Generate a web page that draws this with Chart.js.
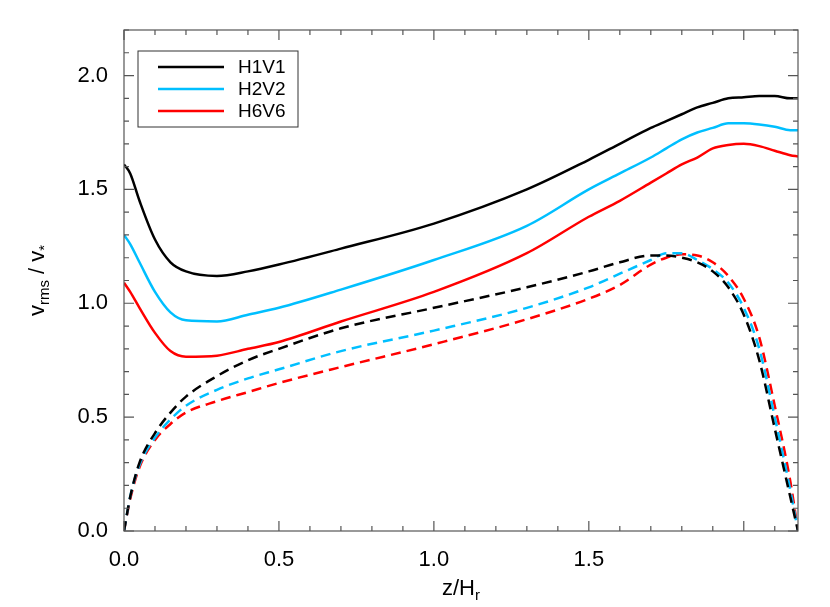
<!DOCTYPE html>
<html>
<head>
<meta charset="utf-8">
<script src="https://cdn.jsdelivr.net/npm/chart.js@4"></script>
<style>
  html, body { margin: 0; padding: 0; background: #fff; }
  #wrap { width: 830px; height: 607px; }
</style>
</head>
<body>
<div id="wrap"><canvas id="c" width="830" height="607"></canvas></div>
<script>
// z / H_r
const zVals = [0, 0.02, 0.05, 0.1, 0.15, 0.2, 0.3, 0.4, 0.5, 0.7, 1.0, 1.3, 1.5, 1.6, 1.7, 1.75, 1.8, 1.85, 1.9, 1.95, 2.0, 2.05, 2.1, 2.15, 2.175];

// solid: total v_rms / v_*
const h1Solid = [1.61, 1.57, 1.45, 1.28, 1.18, 1.14, 1.12, 1.14, 1.17, 1.24, 1.35, 1.50, 1.63, 1.70, 1.77, 1.80, 1.83, 1.86, 1.88, 1.90, 1.905, 1.91, 1.91, 1.90, 1.90];
const h2Solid = [1.30, 1.26, 1.18, 1.05, 0.96, 0.925, 0.92, 0.95, 0.98, 1.06, 1.19, 1.34, 1.50, 1.57, 1.64, 1.68, 1.72, 1.75, 1.77, 1.79, 1.79, 1.785, 1.775, 1.76, 1.76];
const h6Solid = [1.09, 1.05, 0.98, 0.87, 0.79, 0.765, 0.77, 0.80, 0.83, 0.92, 1.05, 1.22, 1.38, 1.45, 1.53, 1.57, 1.61, 1.64, 1.68, 1.695, 1.70, 1.69, 1.67, 1.65, 1.645];

// dashed
const h1Dash = [0, 0.15, 0.30, 0.43, 0.52, 0.59, 0.68, 0.75, 0.80, 0.89, 0.98, 1.07, 1.14, 1.18, 1.21, 1.21, 1.20, 1.18, 1.14, 1.07, 0.95, 0.75, 0.45, 0.15, 0];
const h2Dash = [0, 0.15, 0.29, 0.41, 0.49, 0.55, 0.62, 0.67, 0.71, 0.79, 0.88, 0.98, 1.07, 1.13, 1.19, 1.22, 1.22, 1.19, 1.15, 1.09, 0.98, 0.80, 0.50, 0.18, 0];
const h6Dash = [0, 0.14, 0.28, 0.40, 0.47, 0.52, 0.57, 0.61, 0.65, 0.72, 0.82, 0.93, 1.02, 1.08, 1.17, 1.20, 1.215, 1.21, 1.18, 1.12, 1.02, 0.85, 0.55, 0.22, 0];

const FONT = "'Liberation Sans', Arial, sans-serif";
const pts = arr => arr.map((v, i) => ({ x: zVals[i], y: v }));
const isHalf = v => Math.abs(v / 0.5 - Math.round(v / 0.5)) < 1e-6;

function series(label, data, color, dashed) {
  return {
    label: label,
    data: pts(data),
    borderColor: color,
    borderWidth: 2.5,
    borderDash: dashed ? [10, 6] : [],
    pointRadius: 0,
    cubicInterpolationMode: 'monotone',
    fill: false,
    _dashed: dashed
  };
}

// IDL-style inward ticks, frame, legend and axis titles
const decor = {
  id: 'decor',
  afterDraw(chart) {
    const { ctx, chartArea: a, scales: { x, y } } = chart;
    ctx.save();
    ctx.strokeStyle = '#555';
    ctx.lineWidth = 1.2;
    ctx.strokeRect(a.left, a.top, a.right - a.left, a.bottom - a.top);
    ctx.beginPath();
    for (let v = 0; v <= x.max + 1e-9; v += 0.1) {
      const px = x.getPixelForValue(v);
      const len = isHalf(v) ? 10 : 5;
      ctx.moveTo(px, a.bottom); ctx.lineTo(px, a.bottom - len);
      ctx.moveTo(px, a.top); ctx.lineTo(px, a.top + len);
    }
    for (let v = 0; v <= y.max + 1e-9; v += 0.1) {
      const py = y.getPixelForValue(v);
      const len = isHalf(v) ? 10 : 5;
      ctx.moveTo(a.left, py); ctx.lineTo(a.left + len, py);
      ctx.moveTo(a.right, py); ctx.lineTo(a.right - len, py);
    }
    ctx.stroke();

    // legend
    ctx.fillStyle = '#fff';
    ctx.fillRect(138, 51, 160, 76);
    ctx.strokeStyle = '#333';
    ctx.lineWidth = 1;
    ctx.strokeRect(138, 51, 160, 76);
    const items = chart.data.datasets.filter(d => !d._dashed);
    ctx.font = '19px ' + FONT;
    ctx.textBaseline = 'middle';
    items.forEach((d, i) => {
      const ly = 67 + i * 22;
      ctx.strokeStyle = d.borderColor;
      ctx.lineWidth = 2.5;
      ctx.beginPath(); ctx.moveTo(158, ly); ctx.lineTo(224, ly); ctx.stroke();
      ctx.fillStyle = '#000';
      ctx.fillText(d.label, 238, ly + 1);
    });

    // x title: z/H_r
    ctx.fillStyle = '#000';
    ctx.textBaseline = 'alphabetic';
    ctx.font = '22px ' + FONT;
    const xt = 'z/H', w1 = ctx.measureText(xt).width;
    ctx.font = '15px ' + FONT;
    const w2 = ctx.measureText('r').width;
    const cx = (a.left + a.right) / 2 - (w1 + w2) / 2;
    ctx.font = '22px ' + FONT;
    ctx.fillText(xt, cx, 595);
    ctx.font = '15px ' + FONT;
    ctx.fillText('r', cx + w1, 600);

    // y title: v_rms / v_*
    ctx.translate(44, (a.top + a.bottom) / 2);
    ctx.rotate(-Math.PI / 2);
    const parts = [['v', 22, 0], ['rms', 15, 5], [' / v', 22, 0], ['*', 15, 5]];
    let tw = 0;
    parts.forEach(p => { ctx.font = p[1] + 'px ' + FONT; tw += ctx.measureText(p[0]).width; });
    let xx = -tw / 2;
    parts.forEach(p => {
      ctx.font = p[1] + 'px ' + FONT;
      ctx.fillText(p[0], xx, p[2]);
      xx += ctx.measureText(p[0]).width;
    });
    ctx.restore();
  }
};

new Chart(document.getElementById('c'), {
  type: 'line',
  data: {
    datasets: [
      series('H1V1', h1Solid, '#000000', false),
      series('H2V2', h2Solid, '#00bfff', false),
      series('H6V6', h6Solid, '#ff0000', false),
      series('H1V1', h1Dash, '#000000', true),
      series('H2V2', h2Dash, '#00bfff', true),
      series('H6V6', h6Dash, '#ff0000', true)
    ]
  },
  options: {
    responsive: false,
    animation: false,
    layout: { padding: { left: 0, right: 32, top: 30, bottom: 0 } },
    plugins: { legend: { display: false }, tooltip: { enabled: false } },
    scales: {
      x: {
        type: 'linear', min: 0, max: 2.175,
        grid: { display: false }, border: { display: false },
        afterBuildTicks: s => { s.ticks = s.ticks.filter(t => isHalf(t.value)); },
        ticks: {
          stepSize: 0.5, padding: 8, color: '#000',
          font: { family: FONT, size: 22 },
          callback: v => Number(v).toFixed(1)
        },
        afterFit: s => { s.height = 76; }
      },
      y: {
        min: 0, max: 2.2,
        grid: { display: false }, border: { display: false },
        afterBuildTicks: s => { s.ticks = s.ticks.filter(t => isHalf(t.value)); },
        ticks: {
          stepSize: 0.5, padding: 8, color: '#000',
          font: { family: FONT, size: 22 },
          callback: v => Number(v).toFixed(1)
        },
        afterFit: s => { s.width = 124; }
      }
    }
  },
  plugins: [decor]
});
</script>
</body>
</html>
